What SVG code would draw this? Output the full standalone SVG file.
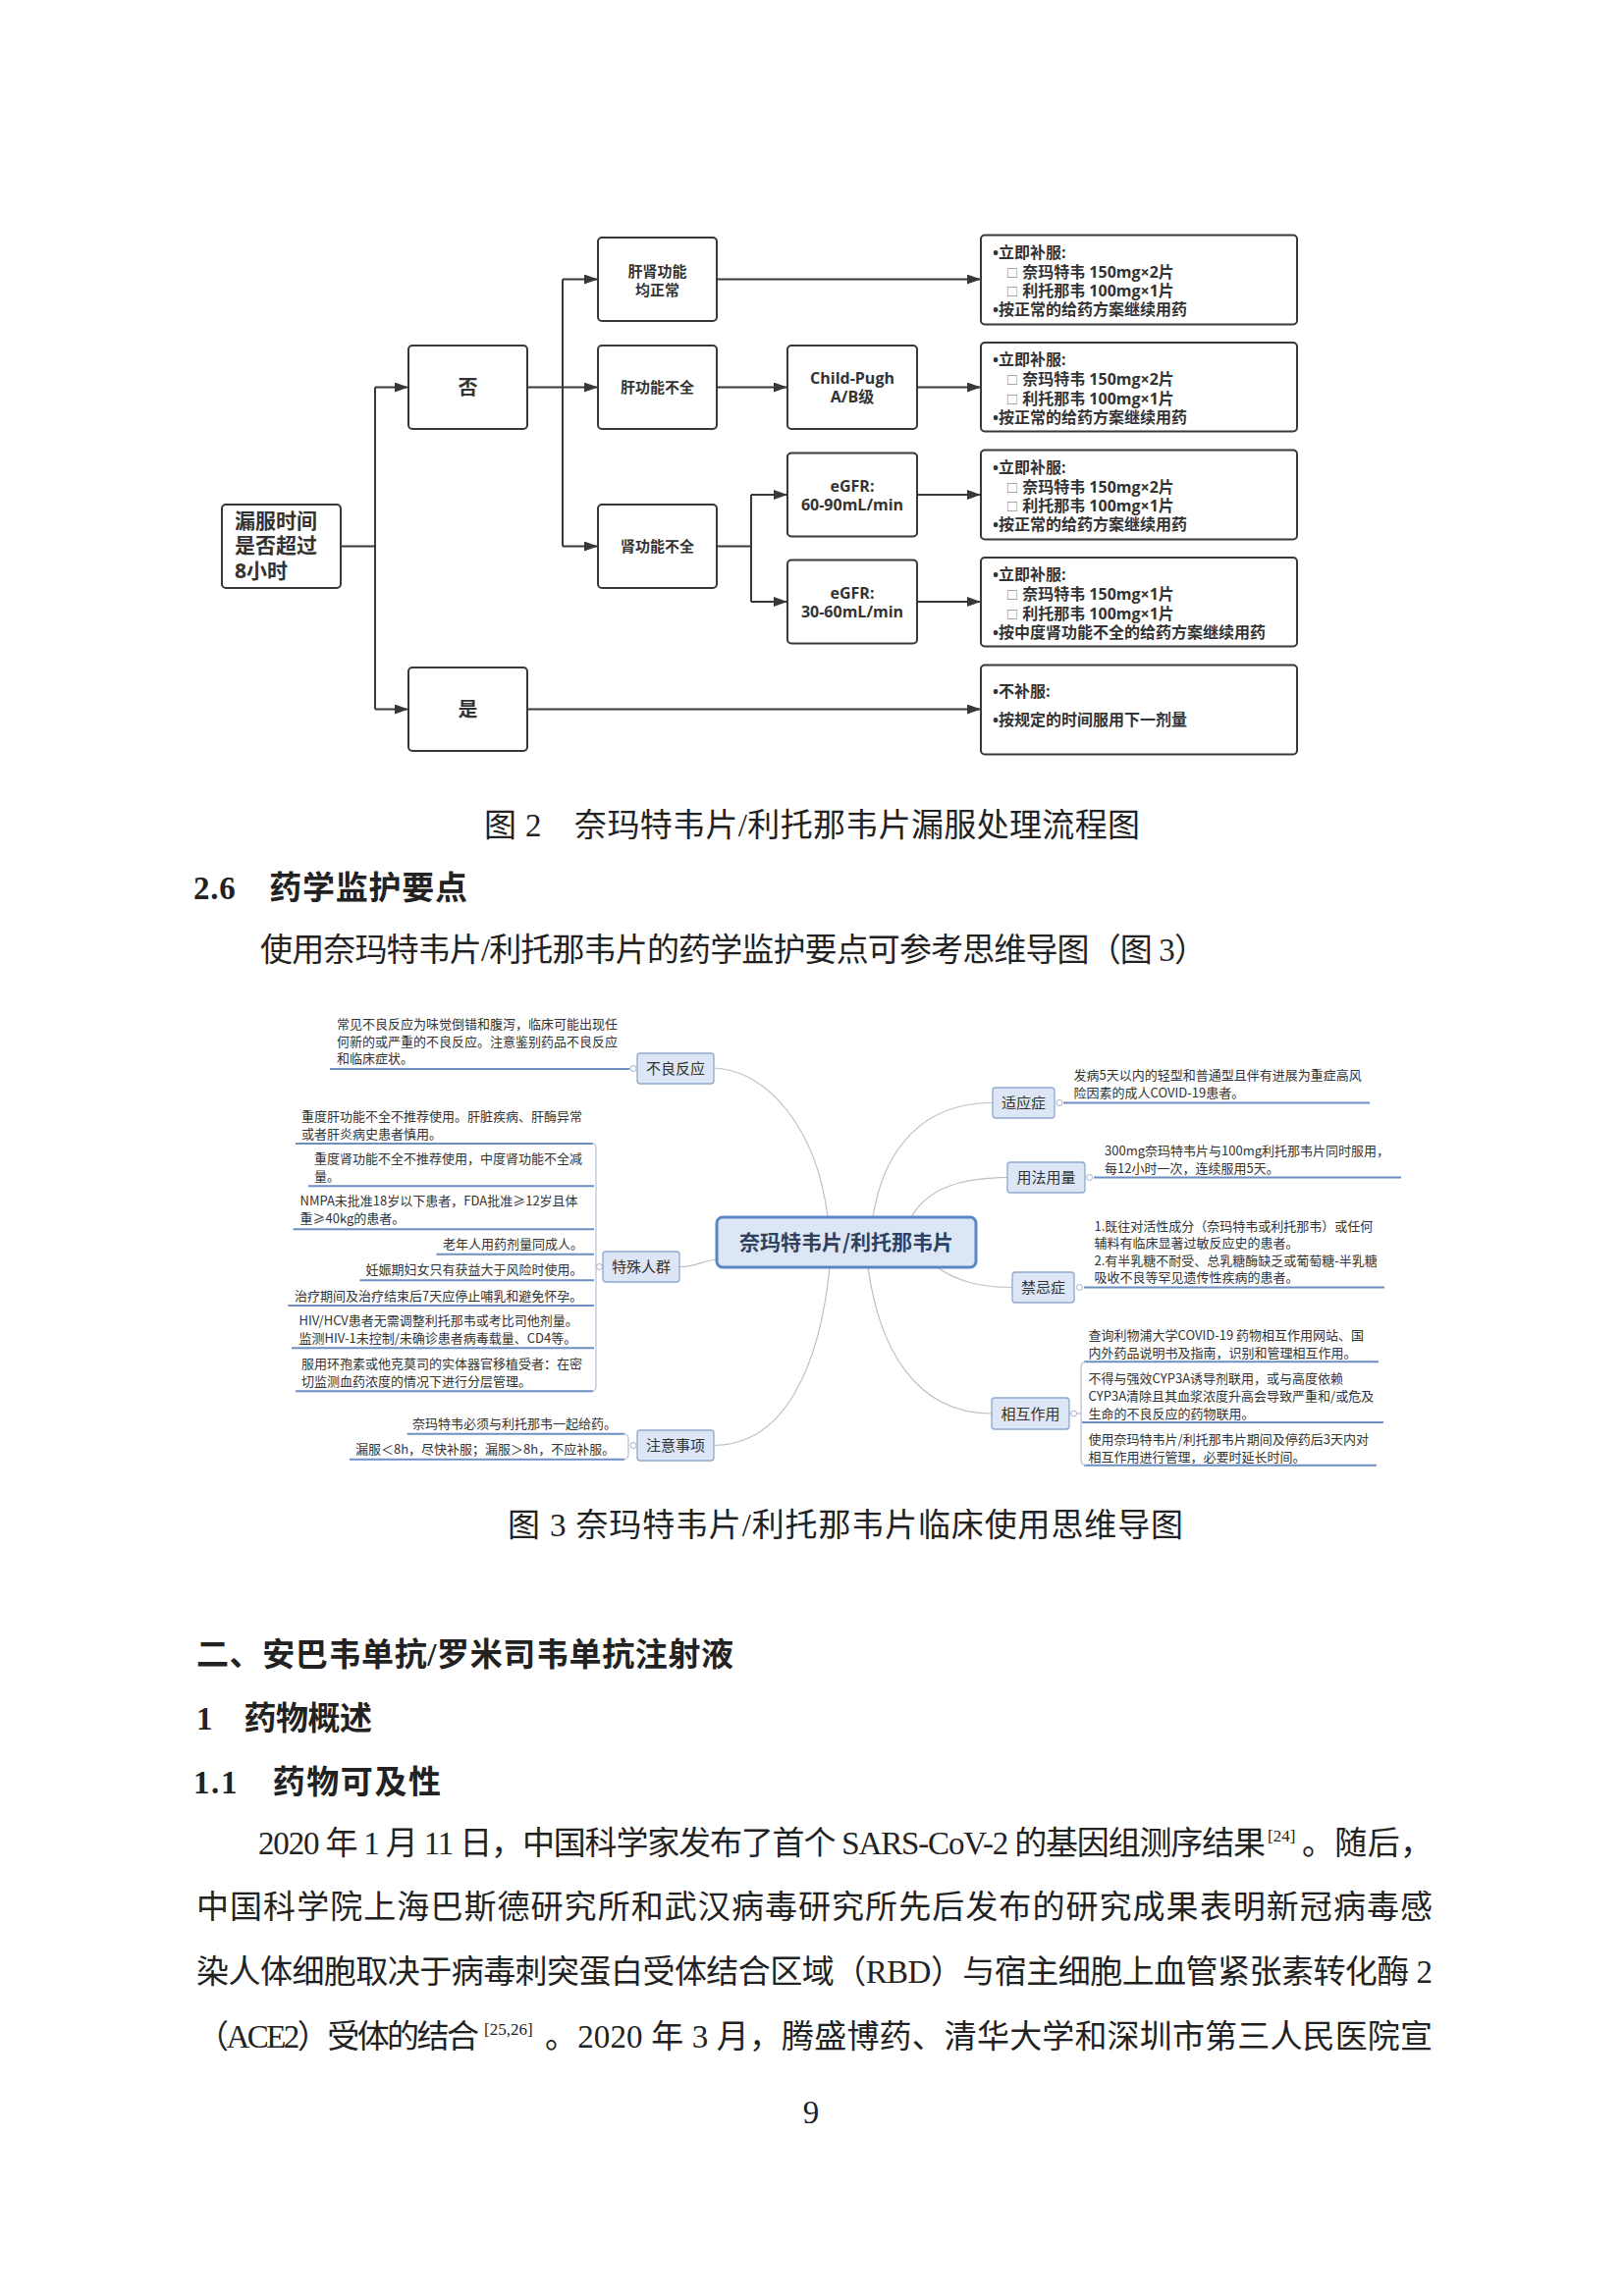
<svg xmlns="http://www.w3.org/2000/svg" width="1654" height="2339" viewBox="0 0 1654 2339">
<style>
.bg{fill:#fff}
.fb{fill:#fff;stroke:#383838;stroke-width:2}
.fc{fill:none;stroke:#383838;stroke-width:2}
.ft{font-family:"Open Sans","Noto Sans CJK SC",sans-serif;font-weight:700;fill:#333}
.fs{font-size:15px}
.fr{font-size:16px}
.fm{text-anchor:middle}
.sq{font-size:12px;font-weight:400;fill:#666}
.body{font-family:"Liberation Serif","Noto Sans CJK SC",serif;font-size:33px;fill:#222}
.hd{font-weight:700}
.sup{font-size:17px}
.leaf{font-family:"Noto Sans CJK SC",sans-serif;font-size:13px;fill:#333}
.ul{stroke:#6e8ec2;stroke-width:2;fill:none}
.br{stroke:#a3b2c8;stroke-width:1;fill:none}
.edge{stroke:#b9c0ca;stroke-width:1.2;fill:none}
.dot{fill:#fff;stroke:#a3b2c8;stroke-width:1}
.sub rect{fill:#dce6f4;stroke:#8ea8cf;stroke-width:1.3}
.sub text{font-family:"Noto Sans CJK SC",sans-serif;font-size:15px;fill:#333;text-anchor:middle}
</style>
<defs>
<marker id="ah" viewBox="0 0 14 10" refX="14" refY="5" markerWidth="14" markerHeight="10" markerUnits="userSpaceOnUse" orient="auto"><path d="M0,0 L14,5 L0,10 z" fill="#383838"/></marker>
</defs>
<rect class="bg" x="0" y="0" width="1654" height="2339"/>

<!-- Flowchart connectors -->
<g id="flow-connectors">
<path class="fc" d="M347,556.5 H382"/>
<path class="fc" d="M382,394.5 V722.5"/>
<path class="fc" d="M382,394.5 H416" marker-end="url(#ah)"/>
<path class="fc" d="M382,722.5 H416" marker-end="url(#ah)"/>
<path class="fc" d="M537,394.5 H609" marker-end="url(#ah)"/>
<path class="fc" d="M573,284.5 V556.5"/>
<path class="fc" d="M573,284.5 H609" marker-end="url(#ah)"/>
<path class="fc" d="M573,556.5 H609" marker-end="url(#ah)"/>
<path class="fc" d="M730,284.5 H999" marker-end="url(#ah)"/>
<path class="fc" d="M730,394.5 H802" marker-end="url(#ah)"/>
<path class="fc" d="M934,394.5 H999" marker-end="url(#ah)"/>
<path class="fc" d="M730,556.5 H765"/>
<path class="fc" d="M765,504 V613"/>
<path class="fc" d="M765,504 H802" marker-end="url(#ah)"/>
<path class="fc" d="M765,613 H802" marker-end="url(#ah)"/>
<path class="fc" d="M934,504 H999" marker-end="url(#ah)"/>
<path class="fc" d="M934,613 H999" marker-end="url(#ah)"/>
<path class="fc" d="M537,722.5 H999" marker-end="url(#ah)"/>
</g>

<!-- Flowchart nodes -->
<g id="n-start">
<rect class="fb" x="226" y="514" width="121" height="85" rx="4"/>
<text class="ft" font-size="21" x="239" y="537.5">漏服时间</text>
<text class="ft" font-size="21" x="239" y="563">是否超过</text>
<text class="ft" font-size="21" x="239" y="589">8小时</text>
</g>
<g id="n-no">
<rect class="fb" x="416" y="352" width="121" height="85" rx="4"/>
<text class="ft fm" font-size="20" x="476.5" y="401.5">否</text>
</g>
<g id="n-yes">
<rect class="fb" x="416" y="680" width="121" height="85" rx="4"/>
<text class="ft fm" font-size="20" x="476.5" y="729.5">是</text>
</g>
<g id="n-normal">
<rect class="fb" x="609" y="242" width="121" height="85" rx="4"/>
<text class="ft fs fm" x="669.5" y="282">肝肾功能</text>
<text class="ft fs fm" x="669.5" y="301">均正常</text>
</g>
<g id="n-liver">
<rect class="fb" x="609" y="352" width="121" height="85" rx="4"/>
<text class="ft fs fm" x="669.5" y="400">肝功能不全</text>
</g>
<g id="n-kidney">
<rect class="fb" x="609" y="514" width="121" height="85" rx="4"/>
<text class="ft fs fm" x="669.5" y="562">肾功能不全</text>
</g>
<g id="n-childpugh">
<rect class="fb" x="802" y="352" width="132" height="85" rx="4"/>
<text class="ft fr fm" x="868" y="391">Child-Pugh</text>
<text class="ft fr fm" x="868" y="410">A/B级</text>
</g>
<g id="n-egfr1">
<rect class="fb" x="802" y="461.5" width="132" height="85" rx="4"/>
<text class="ft fr fm" x="868" y="501">eGFR:</text>
<text class="ft fr fm" x="868" y="520">60-90mL/min</text>
</g>
<g id="n-egfr2">
<rect class="fb" x="802" y="570.5" width="132" height="85" rx="4"/>
<text class="ft fr fm" x="868" y="610">eGFR:</text>
<text class="ft fr fm" x="868" y="629">30-60mL/min</text>
</g>
<g id="n-r1">
<rect class="fb" x="999" y="239.5" width="322" height="91" rx="4"/>
<text class="ft fr" x="1011" y="262.5">•立即补服:</text>
<text class="ft fr" x="1025" y="282.5"><tspan class="sq">□</tspan> 奈玛特韦 150mg×2片</text>
<text class="ft fr" x="1025" y="302"><tspan class="sq">□</tspan> 利托那韦 100mg×1片</text>
<text class="ft fr" x="1011" y="321">•按正常的给药方案继续用药</text>
</g>
<g id="n-r2">
<rect class="fb" x="999" y="349" width="322" height="90.5" rx="4"/>
<text class="ft fr" x="1011" y="372">•立即补服:</text>
<text class="ft fr" x="1025" y="392"><tspan class="sq">□</tspan> 奈玛特韦 150mg×2片</text>
<text class="ft fr" x="1025" y="411.5"><tspan class="sq">□</tspan> 利托那韦 100mg×1片</text>
<text class="ft fr" x="1011" y="430.5">•按正常的给药方案继续用药</text>
</g>
<g id="n-r3">
<rect class="fb" x="999" y="458.5" width="322" height="91" rx="4"/>
<text class="ft fr" x="1011" y="481.5">•立即补服:</text>
<text class="ft fr" x="1025" y="501.5"><tspan class="sq">□</tspan> 奈玛特韦 150mg×2片</text>
<text class="ft fr" x="1025" y="521"><tspan class="sq">□</tspan> 利托那韦 100mg×1片</text>
<text class="ft fr" x="1011" y="540">•按正常的给药方案继续用药</text>
</g>
<g id="n-r4">
<rect class="fb" x="999" y="568" width="322" height="90.5" rx="4"/>
<text class="ft fr" x="1011" y="591">•立即补服:</text>
<text class="ft fr" x="1025" y="611"><tspan class="sq">□</tspan> 奈玛特韦 150mg×1片</text>
<text class="ft fr" x="1025" y="630.5"><tspan class="sq">□</tspan> 利托那韦 100mg×1片</text>
<text class="ft fr" x="1011" y="649.5">•按中度肾功能不全的给药方案继续用药</text>
</g>
<g id="n-r5">
<rect class="fb" x="999" y="677.5" width="322" height="91" rx="4"/>
<text class="ft fr" x="1011" y="710">•不补服:</text>
<text class="ft fr" x="1011" y="739">•按规定的时间服用下一剂量</text>
</g>

<!-- Page texts -->
<g id="page-text">
<text class="body" x="493" y="852" textLength="668" lengthAdjust="spacing">图 2　奈玛特韦片/利托那韦片漏服处理流程图</text>
<text class="body hd" x="197" y="916" textLength="279" lengthAdjust="spacing">2.6　药学监护要点</text>
<text class="body" x="265" y="979" textLength="964" lengthAdjust="spacing">使用奈玛特韦片/利托那韦片的药学监护要点可参考思维导图（图 3）</text>
<text class="body" x="517" y="1565" textLength="688" lengthAdjust="spacing">图 3 奈玛特韦片/利托那韦片临床使用思维导图</text>
<text class="body hd" x="200" y="1697" textLength="547" lengthAdjust="spacing">二、安巴韦单抗/罗米司韦单抗注射液</text>
<text class="body hd" x="200" y="1762" textLength="179" lengthAdjust="spacing">1　药物概述</text>
<text class="body hd" x="197" y="1827" textLength="252" lengthAdjust="spacing">1.1　药物可及性</text>
<text class="body" x="263" y="1889" textLength="1026" lengthAdjust="spacing">2020 年 1 月 11 日，中国科学家发布了首个 SARS-CoV-2 的基因组测序结果</text>
<text class="body sup" x="1291" y="1876">[24]</text>
<text class="body" x="1326" y="1889" textLength="133" lengthAdjust="spacing">。随后，</text>
<text class="body" x="200" y="1954" textLength="1259" lengthAdjust="spacing">中国科学院上海巴斯德研究所和武汉病毒研究所先后发布的研究成果表明新冠病毒感</text>
<text class="body" x="200" y="2020" textLength="1259" lengthAdjust="spacing">染人体细胞取决于病毒刺突蛋白受体结合区域（RBD）与宿主细胞上血管紧张素转化酶 2</text>
<text class="body" x="200" y="2086" textLength="288" lengthAdjust="spacing">（ACE2）受体的结合</text>
<text class="body sup" x="493" y="2073">[25,26]</text>
<text class="body" x="555" y="2086" textLength="904" lengthAdjust="spacing">。2020 年 3 月，腾盛博药、清华大学和深圳市第三人民医院宣</text>
<text class="body" x="826" y="2163" font-size="22" text-anchor="middle">9</text>
</g>

<!-- Mind map connectors -->
<g id="mm-connectors">
<path class="edge" d="M727,1088 C782,1090 832,1150 843,1240"/>
<path class="edge" d="M889,1240 C900,1170 940,1123 1011,1123.5"/>
<path class="edge" d="M928,1240 C945,1210 980,1199.5 1026,1199.5"/>
<path class="edge" d="M953,1290 C975,1306 1000,1311.5 1031,1311.5"/>
<path class="edge" d="M884,1291 C895,1370 930,1440 1010,1440"/>
<path class="edge" d="M845,1291 C835,1390 800,1472 727,1472.5"/>
<path class="edge" d="M692,1290.5 C710,1290.5 715,1284 730,1283"/>
<!-- leaf underlines and brackets -->
<path class="ul" d="M336,1089 H641"/>
<path class="br" d="M641,1088.5 H642"/>
<path class="ul" d="M301,1165 H604"/>
<path class="ul" d="M314,1208.3 H605"/>
<path class="ul" d="M298.6,1252.3 H605"/>
<path class="ul" d="M444.5,1277.7 H605"/>
<path class="ul" d="M366.5,1304.3 H605"/>
<path class="ul" d="M293.4,1330 H605"/>
<path class="ul" d="M297,1373.3 H605"/>
<path class="ul" d="M301,1417.3 H604"/>
<path class="br" d="M603,1165 Q607,1165 607,1170 V1412 Q607,1417.3 603,1417.3"/>
<path class="br" d="M607,1290.5 H608"/>
<path class="ul" d="M414.7,1460.7 H636"/>
<path class="ul" d="M356,1486.7 H636"/>
<path class="br" d="M635,1460.7 Q640,1460.7 640,1465.7 V1481.7 Q640,1486.7 635,1486.7"/>
<path class="ul" d="M1083,1123.5 H1395"/>
<path class="ul" d="M1114,1199.5 H1427"/>
<path class="ul" d="M1104,1311.5 H1410"/>
<path class="ul" d="M1104,1387.3 H1404"/>
<path class="ul" d="M1102,1449 H1409"/>
<path class="ul" d="M1104,1492.7 H1402"/>
<path class="br" d="M1106,1387.3 Q1101,1387.3 1101,1392.3 V1487.7 Q1101,1492.7 1106,1492.7"/>
<path class="br" d="M1096.6,1440 H1101"/>
<circle class="dot" cx="645" cy="1088.5" r="3"/>
<circle class="dot" cx="610.5" cy="1290.5" r="3"/>
<circle class="dot" cx="645" cy="1472.5" r="3"/>
<circle class="dot" cx="1079" cy="1123.5" r="3"/>
<circle class="dot" cx="1109.6" cy="1199.5" r="3"/>
<circle class="dot" cx="1099.5" cy="1311.5" r="3"/>
<circle class="dot" cx="1093.6" cy="1440" r="3"/>
</g>

<!-- Mind map nodes -->
<g id="mm-center">
<rect x="730" y="1240" width="264" height="51" rx="6" fill="#dce6f4" stroke="#5a86c5" stroke-width="3"/>
<text x="862" y="1273" font-family="Noto Sans CJK SC,sans-serif" font-size="21" font-weight="700" fill="#2e4160" text-anchor="middle">奈玛特韦片/利托那韦片</text>
</g>
<g id="mm-adverse" class="sub">
<rect x="649" y="1073" width="78" height="31" rx="3"/>
<text x="688" y="1094">不良反应</text>
</g>
<g id="mm-special" class="sub">
<rect x="614" y="1275" width="78" height="31" rx="3"/>
<text x="653" y="1296">特殊人群</text>
</g>
<g id="mm-notes" class="sub">
<rect x="649" y="1457" width="78" height="31" rx="3"/>
<text x="688" y="1478">注意事项</text>
</g>
<g id="mm-indication" class="sub">
<rect x="1011" y="1108" width="63" height="31" rx="3"/>
<text x="1042.5" y="1129">适应症</text>
</g>
<g id="mm-dosage" class="sub">
<rect x="1026" y="1184" width="79" height="31" rx="3"/>
<text x="1065.5" y="1205">用法用量</text>
</g>
<g id="mm-contra" class="sub">
<rect x="1031" y="1296" width="63" height="31" rx="3"/>
<text x="1062.5" y="1317">禁忌症</text>
</g>
<g id="mm-interact" class="sub">
<rect x="1010" y="1424" width="79" height="32" rx="3"/>
<text x="1049.5" y="1445.5">相互作用</text>
</g>

<!-- Mind map leaf texts -->
<g id="mm-leaves" class="leaf">
<text x="343" y="1048">常见不良反应为味觉倒错和腹泻，临床可能出现任</text>
<text x="343" y="1065.5">何新的或严重的不良反应。注意鉴别药品不良反应</text>
<text x="343" y="1083">和临床症状。</text>

<text x="307" y="1142">重度肝功能不全不推荐使用。肝脏疾病、肝酶异常</text>
<text x="307" y="1159.5">或者肝炎病史患者慎用。</text>
<text x="320" y="1185">重度肾功能不全不推荐使用，中度肾功能不全减</text>
<text x="320" y="1202.7">量。</text>
<text x="305.5" y="1228.3">NMPA未批准18岁以下患者，FDA批准≥12岁且体</text>
<text x="305.5" y="1245.7">重≥40kg的患者。</text>
<text x="451" y="1272.3">老年人用药剂量同成人。</text>
<text x="372.6" y="1298.3">妊娠期妇女只有获益大于风险时使用。</text>
<text x="300" y="1325">治疗期间及治疗结束后7天应停止哺乳和避免怀孕。</text>
<text x="304.5" y="1350">HIV/HCV患者无需调整利托那韦或考比司他剂量。</text>
<text x="304.5" y="1368.3">监测HIV-1未控制/未确诊患者病毒载量、CD4等。</text>
<text x="307" y="1394.3">服用环孢素或他克莫司的实体器官移植受者：在密</text>
<text x="307" y="1411.7">切监测血药浓度的情况下进行分层管理。</text>

<text x="420" y="1455">奈玛特韦必须与利托那韦一起给药。</text>
<text x="362" y="1480.5">漏服＜8h，尽快补服；漏服＞8h，不应补服。</text>

<text x="1093.6" y="1100.3">发病5天以内的轻型和普通型且伴有进展为重症高风</text>
<text x="1093.6" y="1117.8">险因素的成人COVID-19患者。</text>
<text x="1125" y="1177">300mg奈玛特韦片与100mg利托那韦片同时服用，</text>
<text x="1125" y="1194.5">每12小时一次，连续服用5天。</text>
<text x="1114.5" y="1253.7">1.既往对活性成分（奈玛特韦或利托那韦）或任何</text>
<text x="1114.5" y="1271.2">辅料有临床显著过敏反应史的患者。</text>
<text x="1114.5" y="1288.7">2.有半乳糖不耐受、总乳糖酶缺乏或葡萄糖-半乳糖</text>
<text x="1114.5" y="1306.2">吸收不良等罕见遗传性疾病的患者。</text>
<text x="1108.6" y="1365">查询利物浦大学COVID-19 药物相互作用网站、国</text>
<text x="1108.6" y="1383">内外药品说明书及指南，识别和管理相互作用。</text>
<text x="1108.6" y="1409">不得与强效CYP3A诱导剂联用，或与高度依赖</text>
<text x="1108.6" y="1427">CYP3A清除且其血浆浓度升高会导致严重和/或危及</text>
<text x="1108.6" y="1445">生命的不良反应的药物联用。</text>
<text x="1108.6" y="1471">使用奈玛特韦片/利托那韦片期间及停药后3天内对</text>
<text x="1108.6" y="1489">相互作用进行管理，必要时延长时间。</text>
</g>
</svg>
